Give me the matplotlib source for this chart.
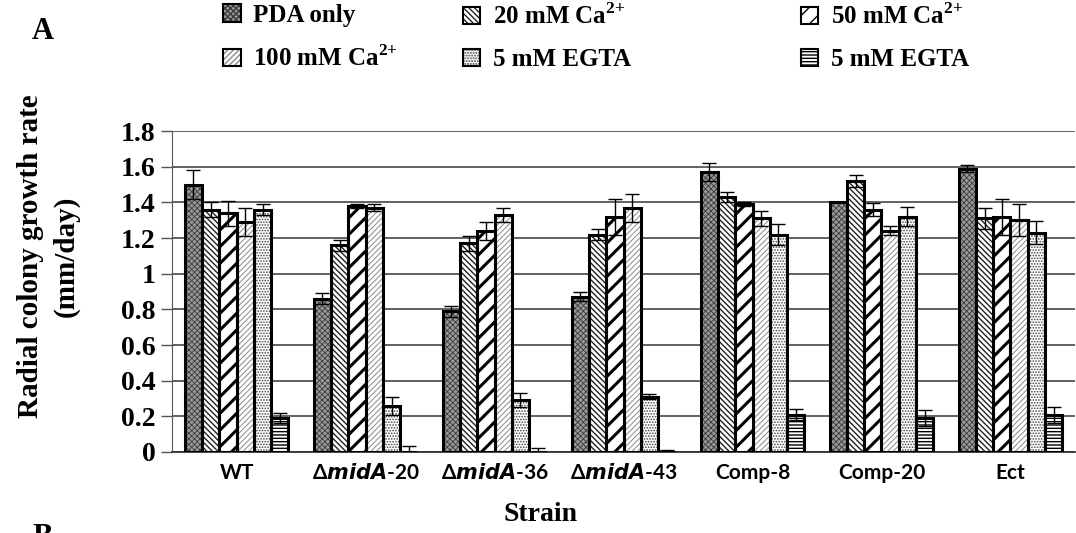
import numpy as np
import matplotlib
matplotlib.use("Agg")
import matplotlib.pyplot as plt
from matplotlib.patches import Patch

plt.rcParams['font.family'] = ['Liberation Serif', 'DejaVu Serif']
plt.rcParams['font.weight'] = 'bold'
plt.rcParams['mathtext.fontset'] = 'custom'
plt.rcParams['mathtext.rm'] = 'Liberation Serif:bold'
plt.rcParams['mathtext.bf'] = 'Liberation Serif:bold'

strains = ['WT', r'Δ$\it{midA}$-20', r'Δ$\it{midA}$-36', r'Δ$\it{midA}$-43', 'Comp-8', 'Comp-20', 'Ect']
treatments = ['PDA only', r'20 mM Ca$^{\mathbf{2{+}}}$', r'50 mM Ca$^{\mathbf{2{+}}}$',
              r'100 mM Ca$^{\mathbf{2{+}}}$', '5 mM EGTA', '5 mM EGTA']

# growth rate (mm/day), rows = treatment, cols = strain
rates = [
    [1.50, 0.86, 0.79, 0.87, 1.57, 1.40, 1.59],
    [1.36, 1.16, 1.17, 1.22, 1.43, 1.52, 1.31],
    [1.34, 1.38, 1.24, 1.32, 1.39, 1.36, 1.32],
    [1.29, 1.37, 1.33, 1.37, 1.31, 1.24, 1.30],
    [1.36, 0.26, 0.29, 0.31, 1.22, 1.32, 1.23],
    [0.19, 0.00, 0.00, 0.00, 0.21, 0.19, 0.21],
]
errs = [
    [0.08, 0.03, 0.03, 0.025, 0.05, 0.00, 0.02],
    [0.04, 0.03, 0.04, 0.03, 0.03, 0.035, 0.06],
    [0.07, 0.01, 0.05, 0.10, 0.01, 0.035, 0.10],
    [0.08, 0.02, 0.04, 0.08, 0.04, 0.025, 0.09],
    [0.03, 0.05, 0.04, 0.015, 0.06, 0.055, 0.065],
    [0.03, 0.035, 0.02, 0.01, 0.03, 0.045, 0.045],
]

# (facecolor, hatch, hatch colour, hatch linewidth)
styles = [
    ('#9a9a9a', 'xxxxxx', '#3a3a3a', 0.6),
    ('white', '\\\\\\\\\\\\', '#222222', 1.0),
    ('white', '//', 'black', 2.2),
    ('white', '//////', '#8a8a8a', 0.7),
    ('white', '......', '#444444', 0.8),
    ('white', '-----', 'black', 1.0),
]

fig = plt.figure(figsize=(10.76, 5.33), dpi=100)
ax = fig.add_axes([0.16, 0.152, 0.839, 0.602])

x = np.arange(len(strains))
w = 0.134
handles = []
for i in range(len(treatments)):
    fc, hatch, hc, hlw = styles[i]
    pos = x + (i - 2.5) * w
    plt.rcParams['hatch.linewidth'] = hlw
    hb = ax.bar(pos, rates[i], w, color=fc, hatch=hatch, edgecolor=hc, linewidth=0, zorder=2)
    for p in hb:
        if hasattr(p, 'set_hatch_linewidth'):
            p.set_hatch_linewidth(hlw)
    ob = ax.bar(pos, rates[i], w, fill=False, edgecolor='black', linewidth=2.2, zorder=3)
    ax.errorbar(pos, rates[i], yerr=errs[i], fmt='none', ecolor='black', elinewidth=1.0,
                capsize=5, capthick=1.0, zorder=4)
    h1 = Patch(facecolor=fc, hatch=hatch, edgecolor=hc, linewidth=0)
    if hasattr(h1, 'set_hatch_linewidth'):
        h1.set_hatch_linewidth(hlw)
    h2 = Patch(fill=False, edgecolor='black', linewidth=1.5)
    handles.append((h1, h2))

ax.set_xlim(-0.5, len(strains) - 0.5)
ax.set_ylim(0, 1.8)
ax.set_yticks(np.arange(0, 1.81, 0.2))
ax.set_yticklabels(['0', '0.2', '0.4', '0.6', '0.8', '1', '1.2', '1.4', '1.6', '1.8'], fontsize=20)
ax.yaxis.grid(True, color='#555555', linewidth=1.3, zorder=0)
ax.set_axisbelow(True)
ax.tick_params(axis='y', direction='out', length=8, width=1.0, color='#555555', pad=4)
ax.tick_params(axis='x', length=0, pad=8)
ax.set_xticks(x)
ax.set_xticklabels(strains, fontsize=15, fontfamily='Lato', fontweight='bold')
for s in ['top', 'right']:
    ax.spines[s].set_visible(False)
ax.spines['left'].set_color('#555555')
ax.spines['bottom'].set_color('#333333')
ax.spines['bottom'].set_linewidth(1.3)

fig.text(0.045, 0.52, 'Radial colony growth rate\n(mm/day)', rotation=90, ha='center',
         va='center', fontsize=21, linespacing=1.4)
fig.text(0.502, 0.034, 'Strain', ha='center', va='center', fontsize=20)
fig.text(0.04, 0.94, 'A', ha='center', va='center', fontsize=22)
fig.text(0.04, 0.019, 'B', ha='center', va='top', fontsize=22)

# legend: three columns of two rows
col_x = [0.198, 0.421, 0.735]
for c in range(3):
    idx = [c, c + 3]
    fig.legend([handles[j] for j in idx], [treatments[j] for j in idx],
               loc='upper left', bbox_to_anchor=(col_x[c], 1.012), frameon=False,
               fontsize=18, handlelength=0.7, handleheight=0.7, handletextpad=0.5,
               labelspacing=0.75, borderaxespad=0)

fig.savefig('out.png', dpi=100)
